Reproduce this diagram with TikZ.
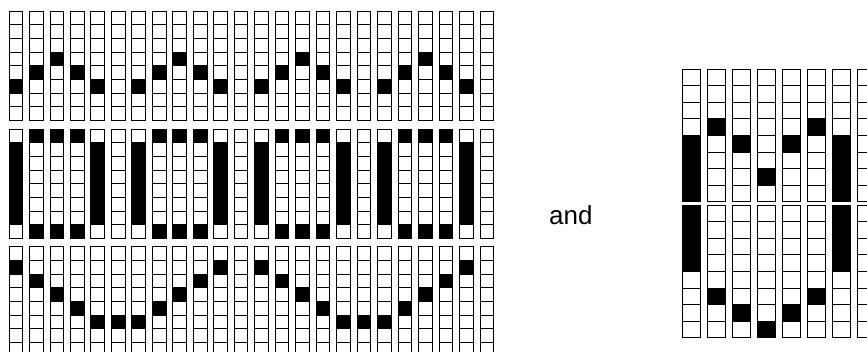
\documentclass[tikz,border=0pt]{standalone}
\usepackage{fontspec}
\setmainfont{Liberation Sans}
\begin{document}
\begin{tikzpicture}[x=1pt,y=-1pt,
  gridcell/.style={draw=black,line width=0.9pt,fill=white},
  blackcell/.style={fill=black}]
\useasboundingbox (0,0) rectangle (867,352);
\clip (0,0) rectangle (867,352);
\def\lw{13.67}
\def\lh{13.67}
\def\rw{17.3}
\def\rh{16.6}
% ---------- left: three blocks of 24 columns ----------
\foreach \i in {0,...,23} {
  \pgfmathsetmacro\xx{9+20.478*\i}
  \pgfmathtruncatemacro\m{mod(\i,6)}
  \pgfmathtruncatemacro\n{mod(\i,12)}
  % grid
  \foreach \top in {11,129,246.7} {
    \foreach \r in {0,...,7} {
      \path[gridcell] (\xx,\top+\r*\lh) rectangle ++(\lw,\lh);
    }
  }
  % top block
  \pgfmathtruncatemacro\ta{{5,4,3,4,5,-1}[\m]}
  \ifnum\ta>-1
    \path[blackcell] (\xx,11+\ta*\lh) rectangle ++(\lw,\lh);
  \fi
  % middle block
  \pgfmathtruncatemacro\tb{{1,2,2,2,1,0}[\m]}
  \ifnum\tb=1
    \path[blackcell] (\xx,129+\lh) rectangle ++(\lw,6*\lh);
  \fi
  \ifnum\tb=2
    \path[blackcell] (\xx,129) rectangle ++(\lw,\lh);
    \path[blackcell] (\xx,129+7*\lh) rectangle ++(\lw,\lh);
  \fi
  % bottom block
  \pgfmathtruncatemacro\tc{{1,2,3,4,5,5,5,4,3,2,1,-1}[\n]}
  \ifnum\tc>-1
    \path[blackcell] (\xx,246.7+\tc*\lh) rectangle ++(\lw,\lh);
  \fi
}
% ---------- label ----------
\node[font=\fontsize{26}{30}\selectfont, anchor=base west, inner sep=0pt] (andlabel) at (549,225) {and};
% ---------- right: two blocks of 8 columns ----------
\foreach \j in {0,...,7} {
  \pgfmathsetmacro\xx{682.7+25*\j}
  \foreach \top in {69,205} {
    \foreach \r in {0,...,7} {
      \path[gridcell] (\xx,\top+\r*\rh) rectangle ++(\rw,\rh);
    }
  }
  \pgfmathtruncatemacro\us{{4,3,4,6,4,3,4,-1}[\j]}
  \pgfmathtruncatemacro\ue{{7,3,4,6,4,3,7,-1}[\j]}
  \ifnum\us>-1
    \path[blackcell] (\xx,69+\us*\rh) rectangle (\xx+\rw,69+\ue*\rh+\rh);
  \fi
  \pgfmathtruncatemacro\ls{{0,5,6,7,6,5,0,-1}[\j]}
  \pgfmathtruncatemacro\le{{3,5,6,7,6,5,3,-1}[\j]}
  \ifnum\ls>-1
    \path[blackcell] (\xx,205+\ls*\rh) rectangle (\xx+\rw,205+\le*\rh+\rh);
  \fi
}
\end{tikzpicture}
\end{document}
